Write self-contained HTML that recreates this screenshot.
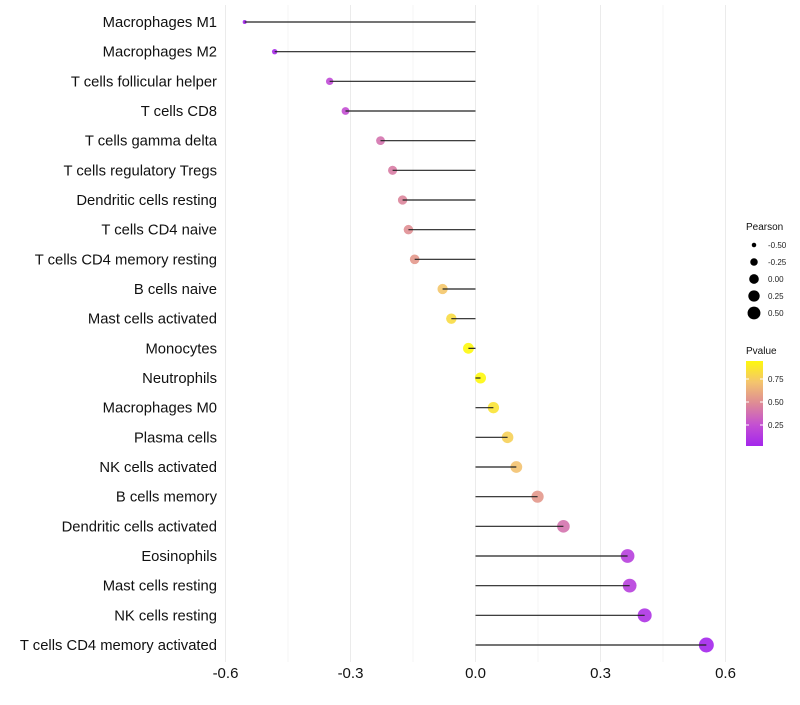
<!DOCTYPE html>
<html><head><meta charset="utf-8"><style>
body{margin:0;background:#fff;font-family:"Liberation Sans",sans-serif}
</style></head><body>
<svg id="chart" width="800" height="700" xmlns="http://www.w3.org/2000/svg"></svg>
<script>
const categories=["Macrophages M1","Macrophages M2","T cells follicular helper","T cells CD8","T cells gamma delta","T cells regulatory  Tregs","Dendritic cells resting","T cells CD4 naive","T cells CD4 memory resting","B cells naive","Mast cells activated","Monocytes","Neutrophils","Macrophages M0","Plasma cells","NK cells activated","B cells memory","Dendritic cells activated","Eosinophils","Mast cells resting","NK cells resting","T cells CD4 memory activated"];
const pearson=[-0.554,-0.482,-0.350,-0.312,-0.228,-0.199,-0.175,-0.161,-0.146,-0.079,-0.058,-0.017,0.012,0.043,0.077,0.098,0.149,0.211,0.365,0.370,0.406,0.554];
const pvalues=[0.02,0.05,0.22,0.24,0.4,0.44,0.48,0.52,0.56,0.76,0.85,0.97,0.97,0.88,0.8,0.74,0.56,0.4,0.16,0.16,0.1,0.03];
const xTicks=[-0.6,-0.3,0.0,0.3,0.6];
const xTickLabels=["-0.6","-0.3","0.0","0.3","0.6"];
const sizeLegend=[-0.5,-0.25,0,0.25,0.5];
const colorLegend=[0.25,0.5,0.75];

const NS="http://www.w3.org/2000/svg";
const svg=document.getElementById('chart');
function mk(t,a,p){const e=document.createElementNS(NS,t);for(const k in a)e.setAttribute(k,a[k]);(p||svg).appendChild(e);return e;}
const x=v=>475.5+v*(500/1.2);
const n=categories.length;
const y=i=>22+i*(645-22)/(n-1);
const pMin=-0.554,pMax=0.554;
const r=p=>Math.sqrt(4+52*Math.max(0,(p-pMin)/(pMax-pMin)));
const stops=[[0,[160,32,240]],[0.25,[196,80,210]],[0.5,[222,138,150]],[0.75,[244,196,110]],[1,[255,255,0]]];
function col(p){for(let i=0;i<stops.length-1;i++){const [a,ca]=stops[i],[b,cb]=stops[i+1];if(p<=b){const t=(p-a)/(b-a);const c=ca.map((v,j)=>Math.round(v+(cb[j]-v)*t));return `rgb(${c[0]},${c[1]},${c[2]})`;}}return 'rgb(255,255,0)';}

for(let v=-0.6;v<=0.61;v+=0.15){
  const g=mk('line',{x1:x(v),x2:x(v),y1:5,y2:662,stroke:'#ebebeb','stroke-width':Math.abs(Math.round(v/0.3)*0.3-v)<0.01?1:0.5});
  
  
}
xTicks.forEach((v,i)=>{
  const t=mk('text',{x:x(v),y:678,'text-anchor':'middle','font-size':15,fill:'#111'});
  t.textContent=xTickLabels[i];
  
  
});
categories.forEach((c,i)=>{
  const t=mk('text',{x:217,y:y(i)+5,'text-anchor':'end','font-size':14.8,fill:'#111'});
  t.textContent=c;
  
  
  const d=mk('circle',{cx:x(pearson[i]),cy:y(i),r:r(pearson[i]),fill:col(pvalues[i]),'fill-opacity':0.9});
  
  
  const l=mk('line',{x1:x(0),x2:x(pearson[i]),y1:y(i),y2:y(i),stroke:'#222','stroke-width':1.2});
  
  
});
const lt=mk('text',{x:746,y:230,'font-size':10,fill:'#111'});lt.textContent='Pearson';


sizeLegend.forEach((v,i)=>{
  const cy=245+i*17;
  const c=mk('circle',{cx:754,cy:cy,r:r(v)*0.88,fill:'#000'});
  
  
  const t=mk('text',{x:768,y:cy+3,'font-size':8,fill:'#222'});t.textContent=v.toFixed(2);
  
  
});
const ct=mk('text',{x:746,y:354,'font-size':10,fill:'#111'});ct.textContent='Pvalue';


const defs=mk('defs',{});
const gr=mk('linearGradient',{id:'pg',x1:0,y1:1,x2:0,y2:0},defs);
[0.03,0.25,0.5,0.75,0.97].forEach((p,i)=>mk('stop',{offset:i/4,'stop-color':col(p)},gr));
const bar=mk('rect',{x:746,y:361,width:17,height:85,fill:'url(#pg)'});


colorLegend.forEach(v=>{
  const cy=448-v*92;
  mk('line',{x1:746,x2:749,y1:cy,y2:cy,stroke:'#fff'});
  mk('line',{x1:760,x2:763,y1:cy,y2:cy,stroke:'#fff'});
  const t=mk('text',{x:768,y:cy+3,'font-size':8,fill:'#222'});t.textContent=v.toFixed(2);
  
  
});
</script>
</body></html>
